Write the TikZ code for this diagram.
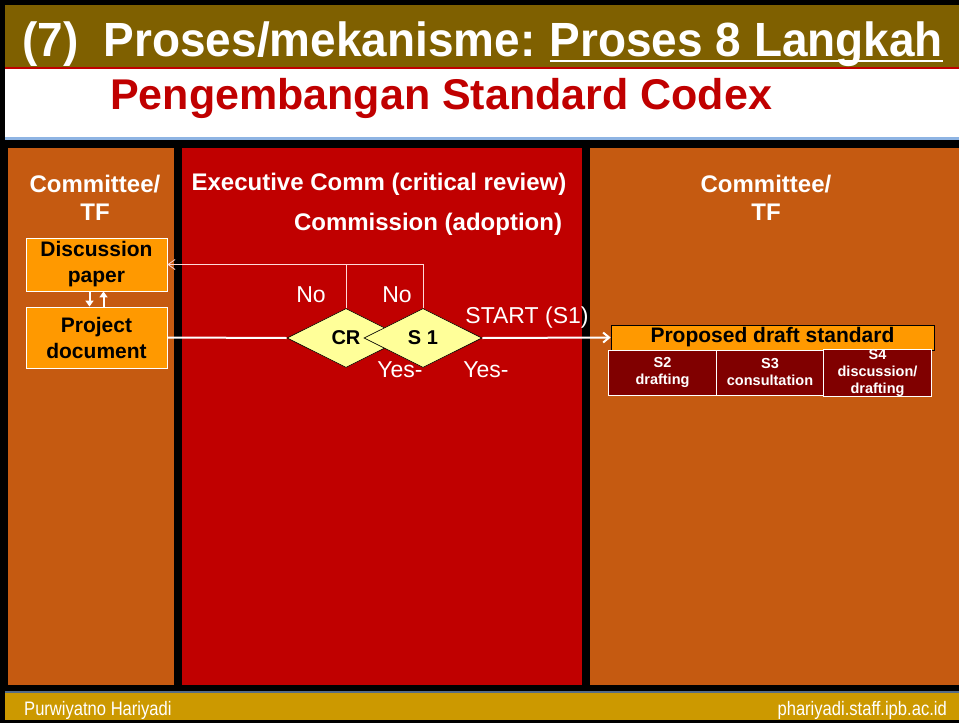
\documentclass[tikz,border=0pt]{standalone}
\usepackage{fontspec}
\setmainfont{Liberation Sans}
\newfontfamily\titlefont[FakeStretch=0.957]{Liberation Sans}
\newfontfamily\narrowfont[FakeStretch=0.85]{Liberation Sans}
\usetikzlibrary{shapes.geometric,arrows.meta}
\definecolor{hdr}{HTML}{7F6000}
\definecolor{panelorange}{HTML}{C55A11}
\definecolor{panelred}{HTML}{C00000}
\definecolor{footgold}{HTML}{CC9900}
\definecolor{boxorange}{HTML}{FF9900}
\definecolor{darkred}{HTML}{800000}
\definecolor{diafill}{HTML}{FFFF99}
\definecolor{titlered}{HTML}{C00000}
\definecolor{lineblue}{HTML}{8EB4E3}
\tikzset{
  hdtext/.style={text=white,font=\bfseries\fontsize{24}{28}\selectfont,align=center,inner sep=0},
  pbox/.style={draw=white,line width=0.8pt,fill=boxorange,text=black,font=\bfseries\fontsize{21}{26}\selectfont,align=center,minimum width=141pt,inner sep=0},
  dia/.style={shape=diamond,draw=black,line width=0.6pt,fill=diafill,minimum width=118pt,minimum height=59pt,inner sep=0,font=\bfseries\fontsize{20}{24}\selectfont},
  lbl/.style={text=white,font=\fontsize{23}{26}\selectfont,inner sep=0},
  sbox/.style={draw=white,line width=0.6pt,fill=darkred,text=white,font=\bfseries\fontsize{14.5}{17}\selectfont,align=center,minimum width=107.5pt,minimum height=45pt,inner sep=0},
  fbline/.style={draw=white!85!red,line width=0.8pt},
  bigarrow/.style={draw=white,line width=2pt},
  smallarrow/.style={draw=white,line width=2pt,-{Triangle[length=6pt,width=8pt]}},
  titletext/.style={text=white,inner sep=0,font=\titlefont\bfseries\fontsize{48}{50}\selectfont},
  foot/.style={text=white,inner sep=0,font=\narrowfont\fontsize{19.5}{22}\selectfont},
}
\begin{document}
\begin{tikzpicture}[x=1pt,y=-1pt]
\useasboundingbox (0,0) rectangle (959,723);
\fill[black] (0,0) rectangle (959,723);
% header
\fill[hdr] (5,5) rectangle (959,67);
\fill[titlered] (5,67) rectangle (959,69);
\fill[white] (5,69) rectangle (959,137);
\fill[lineblue] (5,137) rectangle (959,140);
% panels
\fill[panelorange] (8,148) rectangle (174,685);
\fill[panelred] (182,148) rectangle (582,685);
\fill[panelorange] (590,148) rectangle (959,685);
% footer
\fill[lineblue!60!black] (5,691) rectangle (959,693);
\fill[footgold] (5,693) rectangle (959,720);

\node[titletext,anchor=base west] (title) at (22,56) {(7)\ \ Proses/mekanisme:};
\node[titletext,anchor=base west] (title2) at ([xshift=14pt]title.base east) {Proses 8 Langkah};
\draw[white,line width=2.5pt] ([yshift=-5pt]title2.base west) -- ([yshift=-5pt]title2.base east);
\node[anchor=base west,text=titlered,inner sep=0,font=\bfseries\fontsize{43}{46}\selectfont] (subtitle) at (110,109)
  {Pengembangan Standard Codex};

\node[hdtext] (lhead) at (95,198) {Committee/\\TF};
\node[hdtext] (mhead1) at (379,184) {Executive Comm (critical review)};
\node[hdtext] (mhead2) at (428,224) {Commission (adoption)};
\node[hdtext] (rhead) at (766,198) {Committee/\\TF};

\node[pbox,minimum height=53pt] (disc) at (96.5,264.5) {Discussion\\paper};
\node[pbox,minimum height=61pt] (proj) at (96.5,337.5) {Project\\document};
\draw[smallarrow] ([xshift=-7pt]disc.south) -- ([xshift=-7pt]proj.north);
\draw[smallarrow] ([xshift=7pt]proj.north) -- ([xshift=7pt]disc.south);

\node[dia] (cr) at (346,338) {CR};
\node[dia] (s1) at (423,338) {S 1};

\draw[bigarrow] (proj.east) -- (cr.west);
\draw[fbline,-{Straight Barb[length=7pt,width=10pt]}] (s1.north) |- (disc.east);
\draw[fbline] (cr.north) -- (cr.north |- disc.east);

\node[draw=black,line width=0.6pt,fill=boxorange,minimum width=323pt,minimum height=25pt,inner sep=0,font=\bfseries\fontsize{21}{24}\selectfont] (pds) at (772.5,337.5) {Proposed draft standard};
\node[sbox] (s2) at (662.5,372.5) {S2\\drafting};
\node[sbox] (s3) at (770,372.5) {S3\\consultation};
\node[sbox] (s4) at (877.5,372.5) {S4\\discussion/\\drafting};

\draw[bigarrow,-{Straight Barb[length=6pt,width=10pt]}] (s1.east) -- (pds.west);

\node[lbl] (no1) at (311,295) {No};
\node[lbl] (no2) at (397,295) {No};
\node[lbl] (start) at (527,318) {START (S1)};
\node[lbl] (yes1) at (400,370) {Yes-};
\node[lbl] (yes2) at (486,370) {Yes-};

\node[foot,anchor=base west] (fl) at (24,715) {Purwiyatno Hariyadi};
\node[foot,anchor=base east] (fr) at (947,715) {phariyadi.staff.ipb.ac.id};
\end{tikzpicture}
\end{document}
